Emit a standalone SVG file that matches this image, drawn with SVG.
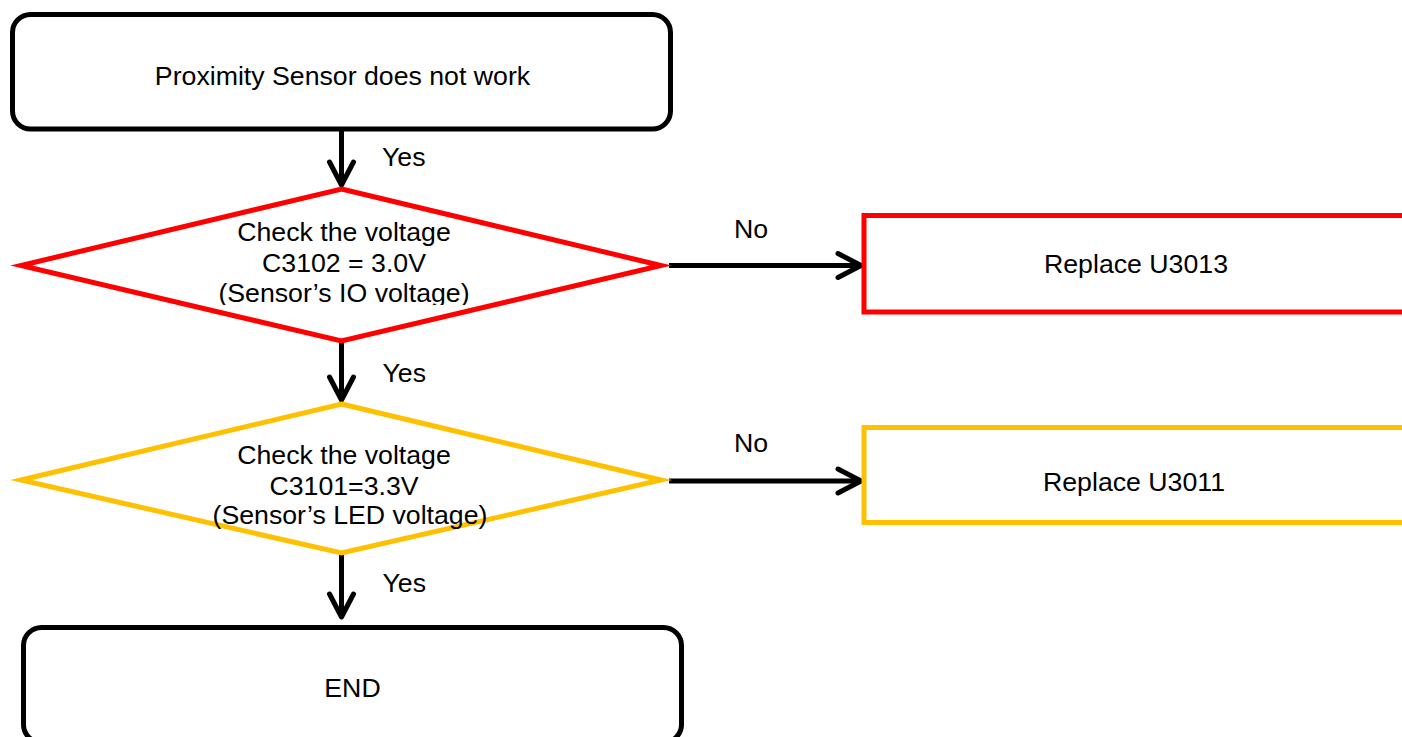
<svg xmlns="http://www.w3.org/2000/svg" width="1402" height="737" viewBox="0 0 1402 737">
<defs>
<style>
.t{font-family:"Liberation Sans",Arial,sans-serif;font-size:26.7px;fill:#000;}
.c{text-anchor:middle;}
.term{fill:#fff;stroke:#000;stroke-width:5;}
.dia{fill:#fff;stroke-width:5;stroke-linejoin:miter;stroke-miterlimit:12;}
.box{fill:#fff;stroke-width:5;}
.red{stroke:#FF0000;}
.yel{stroke:#FFC000;}
.con{fill:none;stroke:#000;stroke-width:5;}
</style>
<marker id="arr" markerUnits="userSpaceOnUse" markerWidth="40" markerHeight="40" viewBox="-30 -20 40 40" refX="0" refY="0" orient="auto" overflow="visible">
<path d="M-23,-12 L0,0 L-23,12" fill="none" stroke="#000" stroke-width="5" stroke-linecap="round" stroke-linejoin="round"/>
</marker>
<clipPath id="clip1"><rect x="150" y="280" width="400" height="25"/></clipPath>
</defs>
<rect width="1402" height="737" fill="#fff"/>
<g id="connectors">
<line class="con" x1="341.5" y1="131" x2="341.5" y2="185" marker-end="url(#arr)"/>
<line class="con" x1="341.5" y1="343" x2="341.5" y2="400" marker-end="url(#arr)"/>
<line class="con" x1="341.5" y1="555" x2="341.5" y2="617" marker-end="url(#arr)"/>
<line class="con" x1="669" y1="265.5" x2="861" y2="265.5" marker-end="url(#arr)"/>
<line class="con" x1="669" y1="481" x2="861" y2="481" marker-end="url(#arr)"/>
<text class="t" x="382" y="165.5">Yes</text>
<text class="t" x="382.5" y="382">Yes</text>
<text class="t" x="382.5" y="592">Yes</text>
<text class="t" x="734" y="238">No</text>
<text class="t" x="734" y="452">No</text>
</g>
<g id="start">
<rect class="term" x="12.5" y="14.5" width="658" height="114.5" rx="18" ry="18"/>
<text class="t c" x="342.5" y="85">Proximity Sensor does not work</text>
</g>
<g id="check1">
<polygon class="dia red" points="341.5,189 661,265.5 341.5,341 21,265.5"/>
<text class="t c" x="344" y="240.5">Check the voltage</text>
<text class="t c" x="344" y="271.5">C3102 = 3.0V</text>
<text class="t c" x="344" y="302" clip-path="url(#clip1)">(Sensor’s IO voltage)</text>
</g>
<g id="replace1">
<rect class="box red" x="864" y="215.5" width="560" height="96.5"/>
<text class="t c" x="1136" y="273">Replace U3013</text>
</g>
<g id="check2">
<polygon class="dia yel" points="341.5,404 661,480 341.5,553 21,480"/>
<text class="t c" x="344" y="463.5">Check the voltage</text>
<text class="t c" x="344" y="494.5">C3101=3.3V</text>
<text class="t c" x="350" y="524">(Sensor’s LED voltage)</text>
</g>
<g id="replace2">
<rect class="box yel" x="864" y="427.5" width="560" height="95"/>
<text class="t c" x="1134" y="491">Replace U3011</text>
</g>
<g id="end">
<rect class="term" x="23.5" y="627.5" width="658" height="115" rx="18" ry="18"/>
<text class="t c" x="352.5" y="697">END</text>
</g>
</svg>
